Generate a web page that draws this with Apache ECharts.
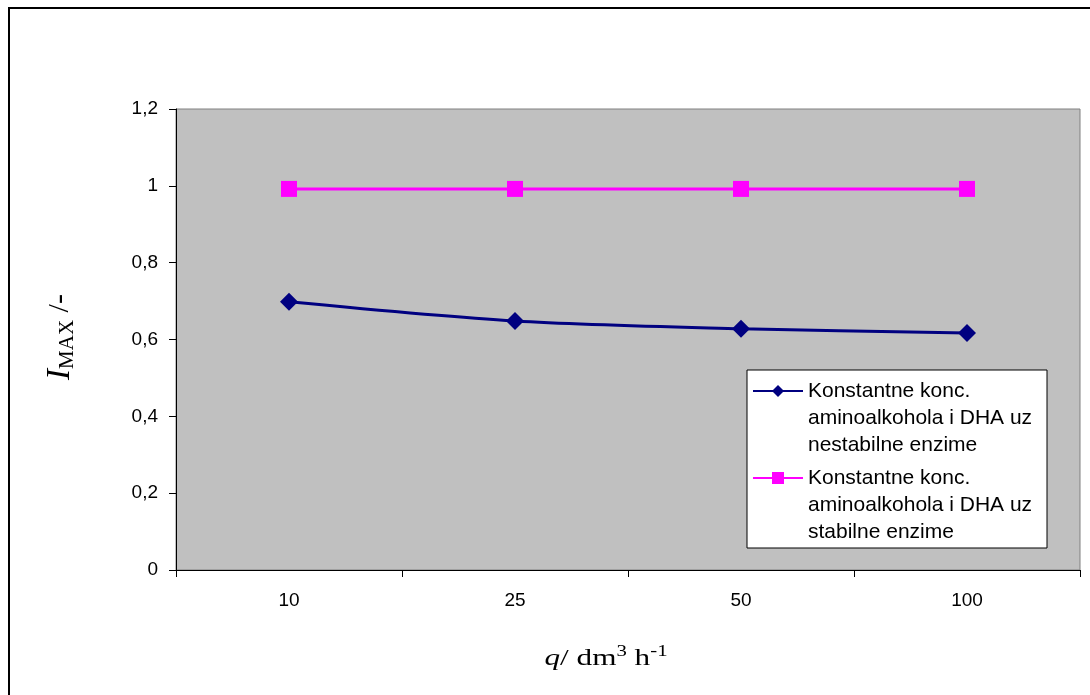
<!DOCTYPE html>
<html><head><meta charset="utf-8">
<script src="https://cdn.jsdelivr.net/npm/echarts@6/dist/echarts.min.js"></script>
<style>html,body{margin:0;padding:0;background:#fff}#c{width:1090px;height:695px}</style>
</head><body><div id="c"></div>
<script>
// ---- data ----
const categories = ['10', '25', '50', '100'];
const seriesNames = [
  'Konstantne konc.\naminoalkohola i DHA uz\nnestabilne enzime',
  'Konstantne konc.\naminoalkohola i DHA uz\nstabilne enzime'
];
const unstableValues = [0.698, 0.648, 0.628, 0.617];
const stableValues = [0.992, 0.992, 0.992, 0.992];
const yMin = 0, yMax = 1.2, yStep = 0.2;

// ---- chart ----
const chart = echarts.init(document.getElementById('c'), null, {renderer: 'canvas'});
const legendText = {
  fontFamily: 'Liberation Sans, Arial, sans-serif', fontSize: 21, lineHeight: 27, color: '#000',
  rich: {
    a: {fontFamily: 'Liberation Sans, Arial, sans-serif', fontSize: 21, lineHeight: 27, color: '#000'},
    e: {fontSize: 21, lineHeight: 27}
  }
};
// two invisible lines on top so the first text line sits level with the icon
const legendFormatter = name => '{e| }\n{e| }\n' + name.split('\n').map(s => '{a|' + s + '}').join('\n');
const serif = 'Liberation Serif, Times New Roman, serif';
chart.setOption({
  animation: false,
  backgroundColor: '#fff',
  grid: {left: 176, right: 10, top: 109, bottom: 125, show: true,
         backgroundColor: '#c0c0c0', borderColor: '#808080', borderWidth: 1},
  xAxis: {
    type: 'category', data: categories, boundaryGap: true,
    axisLine: {lineStyle: {color: '#000', width: 1}},
    axisTick: {show: true, length: 7, lineStyle: {color: '#000'}},
    axisLabel: {fontFamily: 'Liberation Sans, Arial, sans-serif', fontSize: 19, color: '#000', margin: 21},
    splitLine: {show: false}
  },
  yAxis: {
    type: 'value', min: yMin, max: yMax, interval: yStep,
    axisLine: {show: true, lineStyle: {color: '#000', width: 1}},
    axisTick: {show: true, length: 7, lineStyle: {color: '#000'}},
    axisLabel: {fontFamily: 'Liberation Sans, Arial, sans-serif', fontSize: 19, color: '#000', margin: 18,
      formatter: v => String(Math.round(v * 10) / 10).replace('.', ',')},
    splitLine: {show: false}
  },
  legend: [
    {data: [seriesNames[0]], left: 752, top: 323.5, padding: 0, itemWidth: 50, itemHeight: 15,
     selectedMode: false, textStyle: legendText, formatter: legendFormatter, z: 5},
    {data: [seriesNames[1]], left: 752, top: 410.5, padding: 0, itemWidth: 50, itemHeight: 15,
     selectedMode: false, textStyle: legendText, formatter: legendFormatter, z: 5}
  ],
  series: [
    {name: seriesNames[0], type: 'line', data: unstableValues, smooth: 0.3,
     symbol: 'diamond', symbolSize: 18,
     lineStyle: {color: '#000080', width: 3}, itemStyle: {color: '#000080'}},
    {name: seriesNames[1], type: 'line', data: stableValues,
     symbol: 'rect', symbolSize: 16,
     lineStyle: {color: '#ff00ff', width: 3}, itemStyle: {color: '#ff00ff'}}
  ],
  graphic: [
    {type: 'rect', x: 9, y: 8, z: -1, silent: true,
     shape: {width: 1100, height: 700}, style: {fill: 'none', stroke: '#000', lineWidth: 2}},
    {type: 'rect', x: 747, y: 370, z: 3, silent: true,
     shape: {width: 300, height: 178}, style: {fill: '#fff', stroke: '#000', lineWidth: 1}},
    {type: 'text', x: 606, y: 659, scaleX: 1.3, silent: true,
     style: {text: '{i|q}{n|/ dm}{sup|3}{n| h}{sup|-1}', align: 'center', verticalAlign: 'middle',
       fill: '#000',
       rich: {
         i: {fontFamily: serif, fontStyle: 'italic', fontSize: 24, lineHeight: 30},
         n: {fontFamily: serif, fontSize: 24, lineHeight: 30},
         sup: {fontFamily: serif, fontSize: 16, lineHeight: 14, verticalAlign: 'top'}
       }}},
    {type: 'text', x: 60, y: 337, rotation: Math.PI / 2, silent: true,
     style: {text: '{i|I}{sub|MAX}{n| /-}', align: 'center', verticalAlign: 'middle',
       fill: '#000',
       rich: {
         i: {fontFamily: serif, fontStyle: 'italic', fontSize: 33, lineHeight: 36},
         n: {fontFamily: serif, fontSize: 30, lineHeight: 36},
         sub: {fontFamily: serif, fontSize: 21, lineHeight: 22, verticalAlign: 'bottom'}
       }}}
  ]
});
</script></body></html>
